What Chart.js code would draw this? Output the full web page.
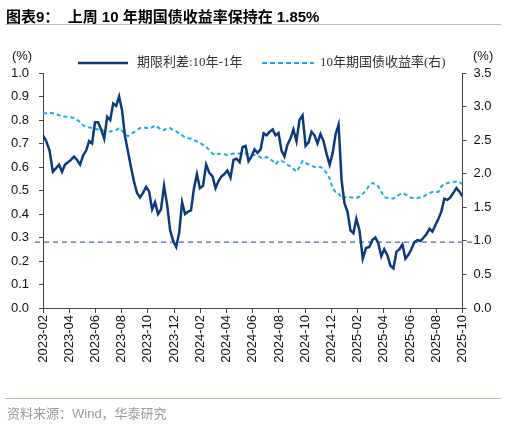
<!DOCTYPE html>
<html>
<head>
<meta charset="utf-8">
<script src="https://cdn.jsdelivr.net/npm/chart.js@4.4.1/dist/chart.umd.min.js"></script>
<style>
  html, body { margin: 0; padding: 0; background: #fff; }
  #wrap { position: relative; width: 506px; height: 424px; overflow: hidden; }
  #chart { position: absolute; left: 0; top: 0; }
  .title {
    position: absolute; left: 6px; top: 5px;
    font: bold 15px "Liberation Sans", "Noto Sans CJK SC", sans-serif; color: #000;
    white-space: nowrap;
  }
  .rule { position: absolute; left: 5px; width: 496px; height: 0; border-top: 1.5px solid #a9bed4; }
  .source {
    position: absolute; left: 7px; top: 403px;
    font: 13px "Liberation Sans", "Noto Sans CJK SC", sans-serif; color: #9a9a9a;
    white-space: nowrap;
  }
</style>
</head>
<body>
<div id="wrap">
  <canvas id="chart" width="506" height="424"></canvas>
  <div class="title">图表9：&nbsp;&nbsp;上周 10 年期国债收益率保持在 1.85%</div>
  <div class="rule" style="top:24px"></div>
  <div class="rule" style="top:398px"></div>
  <div class="source">资料来源：Wind，华泰研究</div>
</div>
<script>
// weekly observations, starting 2023-02-01
const startDate = new Date(2023, 1, 1);
const weekCount = 140;

// 期限利差:10年-1年 (left axis, %)
const termSpread = [
  0.735, 0.71, 0.67, 0.58, 0.595, 0.61, 0.58, 0.61, 0.62, 0.63,
  0.644, 0.63, 0.61, 0.65, 0.67, 0.71, 0.70, 0.79, 0.79, 0.76,
  0.72, 0.814, 0.80, 0.87, 0.86, 0.90, 0.84, 0.73, 0.665, 0.60,
  0.54, 0.49, 0.47, 0.49, 0.516, 0.495, 0.42, 0.45, 0.40, 0.42,
  0.52, 0.44, 0.33, 0.285, 0.26, 0.32, 0.45, 0.40, 0.41, 0.415,
  0.51, 0.57, 0.51, 0.52, 0.61, 0.575, 0.56, 0.51, 0.54, 0.56,
  0.57, 0.585, 0.555, 0.63, 0.635, 0.62, 0.685, 0.69, 0.625, 0.645,
  0.675, 0.66, 0.675, 0.743, 0.735, 0.75, 0.76, 0.735, 0.745, 0.67,
  0.645, 0.695, 0.72, 0.76, 0.71, 0.80, 0.82, 0.69, 0.705, 0.75,
  0.735, 0.70, 0.74, 0.71, 0.655, 0.61, 0.66, 0.74, 0.78, 0.545,
  0.445, 0.41, 0.33, 0.318, 0.38, 0.33, 0.21, 0.255, 0.26, 0.29,
  0.30, 0.275, 0.22, 0.25, 0.225, 0.18, 0.169, 0.24, 0.25, 0.27,
  0.21, 0.226, 0.25, 0.28, 0.289, 0.285, 0.30, 0.315, 0.337, 0.325,
  0.353, 0.38, 0.41, 0.465, 0.46, 0.47, 0.49, 0.51, 0.495, 0.475,
];

// 10年期国债收益率 (right axis, %)
const cgb10y = [
  2.90, 2.90, 2.91, 2.90, 2.89, 2.87, 2.86, 2.85, 2.85, 2.84,
  2.83, 2.80, 2.77, 2.72, 2.70, 2.69, 2.68, 2.67, 2.66, 2.65,
  2.64, 2.63, 2.63, 2.64, 2.65, 2.68, 2.64, 2.58, 2.56, 2.59,
  2.62, 2.65, 2.68, 2.69, 2.68, 2.68, 2.69, 2.72, 2.69, 2.66,
  2.65, 2.68, 2.68, 2.65, 2.63, 2.60, 2.57, 2.54, 2.53, 2.52,
  2.50, 2.48, 2.46, 2.43, 2.40, 2.35, 2.30, 2.28, 2.30, 2.29,
  2.29, 2.28, 2.29, 2.30, 2.30, 2.30, 2.30, 2.30, 2.29, 2.28,
  2.28, 2.27, 2.24, 2.23, 2.25, 2.22, 2.19, 2.14, 2.19, 2.19,
  2.17, 2.13, 2.11, 2.07, 2.03, 2.10, 2.19, 2.16, 2.14, 2.12,
  2.10, 2.10, 2.10, 2.07, 2.01, 1.93, 1.78, 1.73, 1.71, 1.63,
  1.65, 1.65, 1.65, 1.64, 1.64, 1.66, 1.70, 1.75, 1.83, 1.86,
  1.85, 1.81, 1.73, 1.65, 1.64, 1.63, 1.63, 1.66, 1.69, 1.71,
  1.69, 1.67, 1.64, 1.64, 1.64, 1.65, 1.66, 1.69, 1.71, 1.73,
  1.72, 1.73, 1.81, 1.85, 1.86, 1.87, 1.88, 1.88, 1.88, 1.84,
];

const spreadRefLine = 0.28;   // dashed reference level on the left axis
const leftTicks = { min: 0, max: 1.0, step: 0.1 };
const rightTicks = { min: 0, max: 3.5, step: 0.5 };
const monthSpan = 32;         // 2023-02 .. 2025-10
const legendNames = ["期限利差:10年-1年", "10年期国债收益率(右)"];

const NAVY = "#0b3a7e";
const CYAN = "#19aaea";
const AXIS = "#444";

// dates -> fractional months since 2023-02
const weekDates = [];
for (let i = 0; i < weekCount; i++) {
  const d = new Date(startDate);
  d.setDate(d.getDate() + i * 7);
  weekDates.push(d);
}
function monthPos(d) {
  const dim = new Date(d.getFullYear(), d.getMonth() + 1, 0).getDate();
  return (d.getFullYear() - 2023) * 12 + (d.getMonth() - 1) + (d.getDate() - 1) / dim;
}
function monthLabel(v) {
  const total = 2023 * 12 + 1 + Math.round(v);
  const y = Math.floor(total / 12);
  const m = (total % 12) + 1;
  return y + "-" + String(m).padStart(2, "0");
}

const xs = weekDates.map(monthPos);

const tickFont = { family: "'Liberation Sans', Arial, sans-serif", size: 13 };

// legend, units and reference line
const decorPlugin = {
  id: "decor",
  beforeDatasetsDraw(chart) {
    const ctx = chart.ctx;
    const y = chart.scales.y.getPixelForValue(spreadRefLine);
    const { left, right } = chart.chartArea;
    ctx.save();
    ctx.strokeStyle = "#4867a0";
    ctx.lineWidth = 1.2;
    ctx.setLineDash([5, 4]);
    ctx.beginPath();
    ctx.moveTo(left - 8, y);
    ctx.lineTo(right + 11, y);
    ctx.stroke();
    ctx.restore();
  },
  afterDraw(chart) {
    const ctx = chart.ctx;
    ctx.save();
    // legend
    const ly = 63;
    ctx.lineWidth = 2.5;
    ctx.strokeStyle = NAVY;
    ctx.beginPath();
    ctx.moveTo(78, ly);
    ctx.lineTo(128, ly);
    ctx.stroke();
    ctx.lineWidth = 2;
    ctx.strokeStyle = CYAN;
    ctx.setLineDash([5, 3]);
    ctx.beginPath();
    ctx.moveTo(262, ly);
    ctx.lineTo(314, ly);
    ctx.stroke();
    ctx.setLineDash([]);
    ctx.fillStyle = "#333";
    ctx.font = "13px 'Liberation Serif', 'Noto Sans CJK SC', serif";
    ctx.textBaseline = "middle";
    ctx.textAlign = "left";
    ctx.fillText(legendNames[0], 137, ly);
    ctx.fillText(legendNames[1], 320, ly);
    // units
    ctx.fillStyle = "#111";
    ctx.font = "13px 'Liberation Sans', Arial, sans-serif";
    ctx.textAlign = "center";
    ctx.fillText("(%)", 22, 56);
    ctx.textAlign = "left";
    ctx.fillText("(%)", 473, 56);
    ctx.restore();
  },
};

new Chart(document.getElementById("chart"), {
  type: "line",
  data: {
    datasets: [
      {
        label: legendNames[0],
        data: xs.map((x, i) => ({ x, y: termSpread[i] })),
        yAxisID: "y",
        borderColor: NAVY,
        borderWidth: 2.5,
        pointRadius: 0,
        tension: 0,
      },
      {
        label: legendNames[1],
        data: xs.map((x, i) => ({ x, y: cgb10y[i] })),
        yAxisID: "y1",
        borderColor: CYAN,
        borderWidth: 2,
        borderDash: [4, 3],
        pointRadius: 0,
        tension: 0,
      },
    ],
  },
  options: {
    responsive: false,
    animation: false,
    layout: { padding: { top: 73, left: 0, right: 0, bottom: 0 } },
    plugins: {
      legend: { display: false },
      tooltip: { enabled: false },
    },
    scales: {
      x: {
        type: "linear",
        min: 0,
        max: monthSpan,
        afterFit: (s) => { s.height = 116; },
        ticks: {
          stepSize: 2,
          autoSkip: false,
          maxRotation: 90,
          minRotation: 90,
          padding: 2,
          color: "#111",
          font: tickFont,
          callback: (v) => monthLabel(v),
        },
        grid: { drawOnChartArea: false, tickLength: 5, color: AXIS },
        border: { color: AXIS, width: 1 },
      },
      y: {
        position: "left",
        min: leftTicks.min,
        max: leftTicks.max,
        afterFit: (s) => { s.width = 43; },
        ticks: {
          stepSize: leftTicks.step,
          padding: 10,
          color: "#111",
          font: tickFont,
          callback: (v) => v.toFixed(1),
        },
        grid: { drawOnChartArea: false, tickLength: 4, color: AXIS },
        border: { color: AXIS, width: 1 },
      },
      y1: {
        position: "right",
        min: rightTicks.min,
        max: rightTicks.max,
        afterFit: (s) => { s.width = 43.5; },
        ticks: {
          stepSize: rightTicks.step,
          padding: 7,
          color: "#111",
          font: tickFont,
          callback: (v) => v.toFixed(1),
        },
        grid: { drawOnChartArea: false, tickLength: 4, color: AXIS },
        border: { color: AXIS, width: 1 },
      },
    },
  },
  plugins: [decorPlugin],
});
</script>
</body>
</html>
